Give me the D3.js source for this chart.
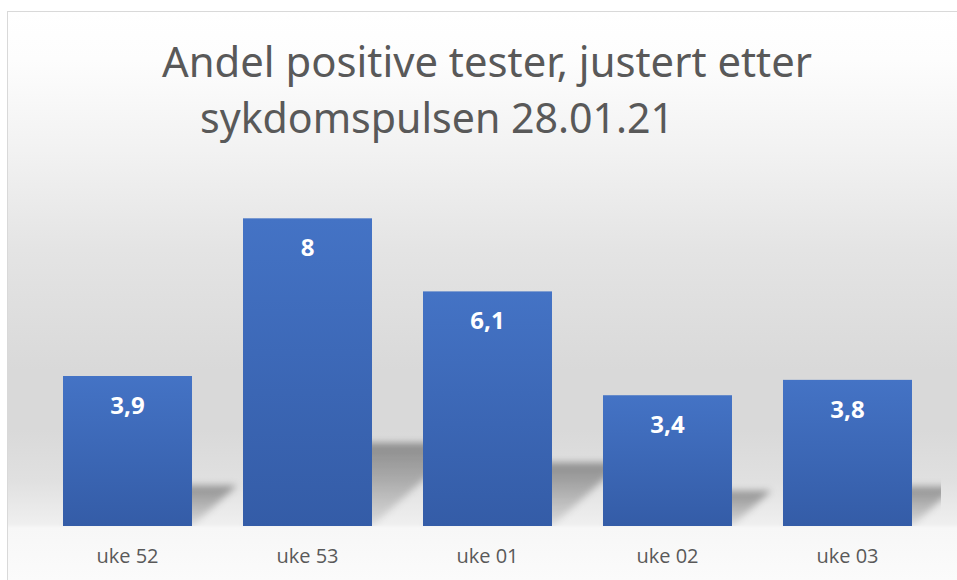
<!DOCTYPE html>
<html>
<head>
<meta charset="utf-8">
<script src="https://cdn.jsdelivr.net/npm/d3@7"></script>
<style>
  body { margin: 0; background: #fff; }
</style>
</head>
<body>
<div id="chart"></div>
<script>
// data
var weeks = ["uke 52", "uke 53", "uke 01", "uke 02", "uke 03"];
var shares = [3.9, 8, 6.1, 3.4, 3.8];
var titleLines = ["Andel positive tester, justert etter", "sykdomspulsen 28.01.21"];

var width = 957;
var height = 580;

var svg = d3.select("#chart")
  .append("svg")
  .attr("width", width)
  .attr("height", height);

var defs = svg.append("defs");

// chart area background: white at top, gray in the middle, light floor
var bg = defs.append("linearGradient")
  .attr("id", "bg")
  .attr("gradientUnits", "userSpaceOnUse")
  .attr("x1", 0).attr("y1", 11)
  .attr("x2", 0).attr("y2", 580);
[[11, "#ffffff"], [60, "#fdfdfd"], [150, "#f2f2f2"], [250, "#e4e4e4"],
 [370, "#d9d9d9"], [430, "#d9d9d9"], [480, "#e0e0e0"], [524, "#efefef"],
 [528, "#f7f7f7"], [580, "#fbfbfb"]].forEach(function(s) {
  bg.append("stop")
    .attr("offset", (s[0] - 11) / (580 - 11))
    .attr("stop-color", s[1]);
});

var barFill = defs.append("linearGradient")
  .attr("id", "barFill")
  .attr("x1", 0).attr("y1", 0)
  .attr("x2", 0).attr("y2", 1);
barFill.append("stop").attr("offset", 0).attr("stop-color", "#4473c5");
barFill.append("stop").attr("offset", 1).attr("stop-color", "#345ca7");

// shadow darkest at its far edge, fading toward the floor line
var shadowFill = defs.append("linearGradient")
  .attr("id", "shadowFill")
  .attr("x1", 0).attr("y1", 0)
  .attr("x2", 0).attr("y2", 1);
shadowFill.append("stop").attr("offset", 0).attr("stop-color", "#000").attr("stop-opacity", 0.36);
shadowFill.append("stop").attr("offset", 1).attr("stop-color", "#000").attr("stop-opacity", 0.08);

defs.append("filter")
  .attr("id", "blur")
  .attr("x", "-30%").attr("y", "-30%")
  .attr("width", "160%").attr("height", "160%")
  .append("feGaussianBlur")
  .attr("stdDeviation", 3.5);

defs.append("clipPath")
  .attr("id", "plotClip")
  .append("rect")
  .attr("x", 7).attr("y", 11)
  .attr("width", 934).attr("height", 515);

// chart area with thin border
svg.append("rect")
  .attr("x", 7.5).attr("y", 11.5)
  .attr("width", 980).attr("height", 600)
  .attr("fill", "url(#bg)")
  .attr("stroke", "#d9d9d9")
  .attr("stroke-width", 1);

var x = d3.scaleBand()
  .domain(weeks)
  .range([37.5, 937.5])
  .paddingInner(0.2833)
  .paddingOuter(0.1417);

var y = d3.scaleLinear()
  .domain([0, 9])
  .range([526, 526 - 9 * 38.46]);

// perspective shadows behind the bars
svg.append("g")
  .attr("clip-path", "url(#plotClip)")
  .selectAll("path")
  .data(weeks)
  .enter()
  .append("path")
  .attr("filter", "url(#blur)")
  .attr("fill", "url(#shadowFill)")
  .attr("d", function(d, i) {
    var x0 = x(d), x1 = x(d) + x.bandwidth();
    var h = y(0) - y(shares[i]);
    var dx = h * 0.3, dy = h * 0.27;
    return "M" + x0 + "," + y(0) +
      "L" + x1 + "," + y(0) +
      "L" + (x1 + dx) + "," + (y(0) - dy) +
      "L" + (x0 + dx) + "," + (y(0) - dy) + "Z";
  });

svg.append("g")
  .selectAll("rect")
  .data(weeks)
  .enter()
  .append("rect")
  .attr("x", function(d) { return x(d); })
  .attr("y", function(d, i) { return y(shares[i]); })
  .attr("width", x.bandwidth())
  .attr("height", function(d, i) { return y(0) - y(shares[i]); })
  .attr("fill", "url(#barFill)");

var fmt = d3.formatLocale({ decimal: ",", thousands: " ", grouping: [3], currency: ["", ""] })
  .format(".1~f");

svg.append("g")
  .selectAll("text")
  .data(weeks)
  .enter()
  .append("text")
  .attr("x", function(d) { return x(d) + x.bandwidth() / 2; })
  .attr("y", function(d, i) { return y(shares[i]) + 38; })
  .attr("text-anchor", "middle")
  .style("font-family", "'Open Sans', sans-serif")
  .style("font-weight", "bold")
  .style("font-size", "24px")
  .style("fill", "#ffffff")
  .text(function(d, i) { return fmt(shares[i]); });

var xAxis = svg.append("g")
  .attr("transform", "translate(0," + y(0) + ")")
  .call(d3.axisBottom(x).tickSize(0));
xAxis.select(".domain").remove();
xAxis.selectAll("text")
  .attr("y", 37)
  .attr("dy", 0)
  .style("font-family", "'Open Sans', sans-serif")
  .style("font-size", "20px")
  .style("fill", "#595959");

// title, squeezed to the width of the original narrow font
var titleX = [162, 200];
var titleY = [77, 133];
var titleW = [650, 474];
svg.append("g")
  .selectAll("text")
  .data(titleLines)
  .enter()
  .append("text")
  .attr("x", function(d, i) { return titleX[i]; })
  .attr("y", function(d, i) { return titleY[i]; })
  .attr("textLength", function(d, i) { return titleW[i]; })
  .attr("lengthAdjust", "spacingAndGlyphs")
  .style("font-family", "'Noto Sans', sans-serif")
  .style("font-size", "42px")
  .style("fill", "#595959")
  .text(function(d) { return d; });
</script>
</body>
</html>
